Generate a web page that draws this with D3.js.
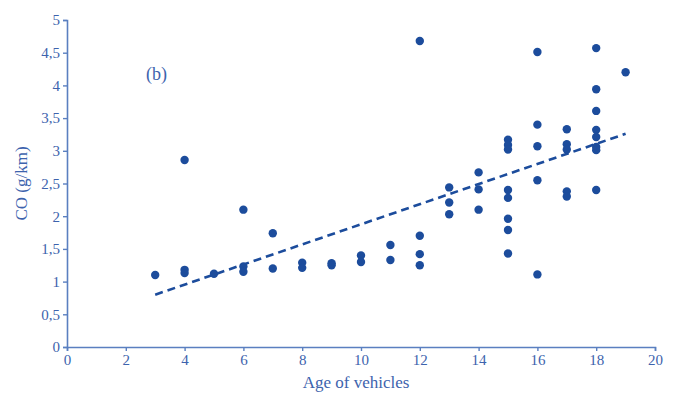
<!DOCTYPE html>
<html>
<head>
<meta charset="utf-8">
<script src="https://cdn.jsdelivr.net/npm/d3@7"></script>
<style>
  html, body { margin: 0; padding: 0; background: #fff; }
  svg { display: block; }
  text { font-family: "Liberation Serif", "DejaVu Serif", serif; }
</style>
</head>
<body>
<svg id="chart" width="678" height="394"></svg>
<script>
// Vehicle age (years) and measured CO emission (g/km)
const ages = [
  3,
  4, 4, 4,
  5,
  6, 6, 6,
  7, 7,
  8, 8,
  9, 9,
  10, 10,
  11, 11,
  12, 12, 12, 12,
  13, 13, 13,
  14, 14, 14,
  15, 15, 15, 15, 15, 15, 15, 15,
  16, 16, 16, 16, 16,
  17, 17, 17, 17, 17,
  18, 18, 18, 18, 18, 18, 18, 18,
  19
];
const coValues = [
  1.10,
  2.86, 1.18, 1.13,
  1.12,
  2.10, 1.23, 1.15,
  1.74, 1.20,
  1.29, 1.21,
  1.28, 1.25,
  1.40, 1.30,
  1.56, 1.33,
  4.68, 1.70, 1.42, 1.25,
  2.44, 2.21, 2.03,
  2.67, 2.41, 2.10,
  3.17, 3.09, 3.02, 2.40, 2.28, 1.96, 1.79, 1.43,
  4.51, 3.40, 3.07, 2.55, 1.11,
  3.33, 3.10, 3.02, 2.38, 2.30,
  4.57, 3.94, 3.61, 3.32, 3.21, 3.06, 3.01, 2.40,
  4.20
];
// Linear trend endpoints (age, CO)
const trendAges = [3, 19];
const trendValues = [0.80, 3.26];

const xTicks = [0, 2, 4, 6, 8, 10, 12, 14, 16, 18, 20];
const yTicks = [0, 0.5, 1, 1.5, 2, 2.5, 3, 3.5, 4, 4.5, 5];

const axisColor = "#5a7fc0";
const textColor = "#3d63ad";
const markColor = "#1c4c9c";

const svg = d3.select("#chart");
const x = d3.scaleLinear().domain([0, 20]).range([67, 655]);
const y = d3.scaleLinear().domain([0, 5]).range([347, 20]);

const fmt = v => String(v).replace(".", ",");

// x axis
const gx = svg.append("g")
  .attr("transform", `translate(0,${y(0)})`)
  .call(d3.axisBottom(x).tickValues(xTicks).tickSize(4).tickPadding(3).tickFormat(fmt));
// y axis
const gy = svg.append("g")
  .attr("transform", `translate(${x(0)},0)`)
  .call(d3.axisLeft(y).tickValues(yTicks).tickSize(4).tickPadding(3).tickFormat(fmt));

[gx, gy].forEach(g => {
  g.select(".domain").attr("stroke", axisColor).attr("stroke-width", 1.6);
  g.selectAll(".tick line").attr("stroke", axisColor).attr("stroke-width", 1.4);
  g.selectAll(".tick text")
    .attr("fill", textColor)
    .style("font-size", "15px")
    .style("font-family", "'Liberation Serif', serif");
});

// trend line
svg.append("line")
  .attr("x1", x(trendAges[0])).attr("y1", y(trendValues[0]))
  .attr("x2", x(trendAges[1])).attr("y2", y(trendValues[1]))
  .attr("stroke", markColor)
  .attr("stroke-width", 2.6)
  .attr("stroke-dasharray", "8,5");

// data points
svg.append("g")
  .selectAll("circle")
  .data(ages.map((a, i) => [a, coValues[i]]))
  .join("circle")
  .attr("cx", d => x(d[0]))
  .attr("cy", d => y(d[1]))
  .attr("r", 4.2)
  .attr("fill", markColor);

// panel label
svg.append("text")
  .attr("x", 146).attr("y", 80)
  .attr("fill", textColor)
  .style("font-size", "18px")
  .text("(b)");

// axis titles
svg.append("text")
  .attr("x", 356).attr("y", 388)
  .attr("text-anchor", "middle")
  .attr("fill", textColor)
  .style("font-size", "17px")
  .text("Age of vehicles");

svg.append("text")
  .attr("transform", `translate(27,${y(2.5)}) rotate(-90)`)
  .attr("text-anchor", "middle")
  .attr("fill", textColor)
  .style("font-size", "17px")
  .text("CO (g/km)");
</script>
</body>
</html>
